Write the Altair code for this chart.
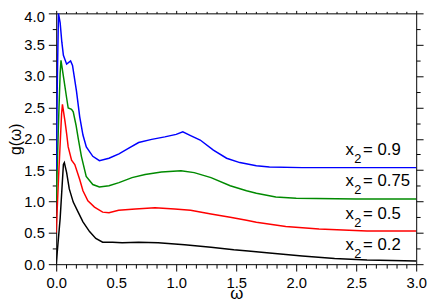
import altair as alt
import pandas as pd

# ---- data ----
w_02 = [0, 0.033, 0.06, 0.068, 0.087, 0.109, 0.142, 0.183, 0.223, 0.278, 0.33, 0.387, 0.47, 0.55, 0.687, 0.85, 1.07, 1.29, 1.48, 1.6, 1.777, 2.05, 2.32, 2.59, 3.0]
g_02 = [0, 0.73, 1.59, 1.62, 1.46, 1.20, 0.99, 0.83, 0.675, 0.52, 0.41, 0.35, 0.35, 0.34, 0.35, 0.34, 0.31, 0.27, 0.23, 0.21, 0.18, 0.13, 0.09, 0.065, 0.05]

w_05 = [0, 0.02, 0.045, 0.052, 0.074, 0.087, 0.1, 0.128, 0.155, 0.196, 0.223, 0.264, 0.319, 0.387, 0.44, 0.52, 0.66, 0.823, 0.987, 1.12, 1.29, 1.45, 1.586, 1.668, 1.913, 2.19, 2.59, 3.0]
g_05 = [0.5, 1.4, 2.4, 2.55, 2.27, 2.08, 1.87, 1.66, 1.59, 1.35, 1.17, 1.01, 0.91, 0.83, 0.82, 0.86, 0.88, 0.90, 0.88, 0.86, 0.80, 0.75, 0.70, 0.67, 0.60, 0.56, 0.53, 0.53]

w_075 = [0, 0.02, 0.033, 0.04, 0.063, 0.087, 0.1, 0.128, 0.142, 0.165, 0.185, 0.21, 0.25, 0.305, 0.36, 0.44, 0.523, 0.632, 0.741, 0.877, 1.04, 1.15, 1.29, 1.45, 1.586, 1.668, 1.83, 2.0, 2.5, 3.0]
g_075 = [1.0, 2.3, 3.05, 3.25, 2.96, 2.65, 2.49, 2.47, 2.43, 2.22, 1.99, 1.72, 1.40, 1.27, 1.23, 1.25, 1.30, 1.38, 1.43, 1.47, 1.49, 1.46, 1.38, 1.25, 1.17, 1.13, 1.07, 1.05, 1.04, 1.04]

w_09 = [0, 0.01, 0.019, 0.033, 0.047, 0.06, 0.087, 0.12, 0.136, 0.169, 0.196, 0.223, 0.251, 0.305, 0.36, 0.44, 0.523, 0.605, 0.687, 0.796, 0.905, 1.0, 1.055, 1.12, 1.2, 1.31, 1.42, 1.53, 1.668, 1.777, 2.05, 3.0]
g_09 = [1.5, 3.0, 4.0, 3.85, 3.54, 3.33, 3.19, 3.24, 3.17, 2.76, 2.35, 2.06, 1.87, 1.72, 1.65, 1.69, 1.76, 1.85, 1.94, 1.99, 2.03, 2.07, 2.11, 2.05, 1.98, 1.82, 1.69, 1.62, 1.57, 1.55, 1.54, 1.54]

series_names = ["x2 = 0.2", "x2 = 0.5", "x2 = 0.75", "x2 = 0.9"]
series_colors = ["#000000", "#ff0000", "#008a00", "#0000ff"]

label_values = ["= 0.2", "= 0.5", "= 0.75", "= 0.9"]
label_x = [2.41, 2.41, 2.41, 2.41]
label_y = [0.23, 0.725, 1.245, 1.74]

x_tick_values = [i / 12 for i in range(37)]
y_tick_values = [i / 4 for i in range(17)]

# ---- tables ----
rows = []
for name, ws, gs in zip(series_names, [w_02, w_05, w_075, w_09], [g_02, g_05, g_075, g_09]):
    for w, g in zip(ws, gs):
        rows.append({"series": name, "w": w, "g": g})
df = pd.DataFrame(rows)

lab = pd.DataFrame({"lx": label_x, "ly": label_y, "val": label_values})

FONT = "Liberation Sans"
minor = "abs(datum.value*2 - round(datum.value*2)) > 0.001"
label_expr = minor + " ? '' : format(datum.value, '.1f')"

xscale = alt.Scale(domain=[0, 3], nice=False, zero=False)
yscale = alt.Scale(domain=[0, 4], nice=False, zero=False)

common = dict(domainColor="black", tickColor="black", domainWidth=1, tickWidth=1,
              grid=False, labelFont=FONT, labelFontSize=15, labelColor="black",
              titleFont=FONT, titleFontWeight="normal", titleColor="black",
              labelOverlap=False, labelFlush=False)

x_bottom = alt.Axis(orient="bottom", values=x_tick_values, labelExpr=label_expr,
                    tickSize={"condition": {"test": minor, "value": 4}, "value": 7},
                    labelPadding=5, titlePadding=-5, titleFontSize=17, **common)
y_left = alt.Axis(orient="left", values=y_tick_values, labelExpr=label_expr,
                  tickSize={"condition": {"test": minor, "value": 4}, "value": 8},
                  labelOffset={"condition": {"test": "datum.value > 3.9", "value": 3}, "value": 0},
                  labelPadding=4, titlePadding=0, titleFontSize=16, **common)
x_top = alt.Axis(orient="top", values=x_tick_values, labels=False, title=None,
                 tickSize={"condition": {"test": minor, "value": 2}, "value": 3},
                 **common)
y_right = alt.Axis(orient="right", values=y_tick_values, labels=False, title=None,
                   tickSize={"condition": {"test": minor, "value": 4}, "value": 7},
                   **common)

lines = alt.Chart(df).mark_line(strokeWidth=1.5, clip=True).encode(
    x=alt.X("w:Q", scale=xscale, axis=x_bottom, title="ω"),
    y=alt.Y("g:Q", scale=yscale, axis=y_left, title="g(ω)"),
    color=alt.Color("series:N", scale=alt.Scale(domain=series_names, range=series_colors), legend=None),
)

base = alt.Chart(lab)
txt_x = base.mark_text(align="left", baseline="alphabetic", font=FONT, fontSize=17, color="black").encode(
    x=alt.X("lx:Q", scale=xscale, axis=x_top),
    y=alt.Y("ly:Q", scale=yscale, axis=y_right),
    text=alt.value("x"),
)
txt_sub = base.mark_text(align="left", baseline="alphabetic", font=FONT, fontSize=13, dx=9, dy=8, color="black").encode(
    x=alt.X("lx:Q", scale=xscale, axis=None),
    y=alt.Y("ly:Q", scale=yscale, axis=None),
    text=alt.value("2"),
)
txt_val = base.mark_text(align="left", baseline="alphabetic", font=FONT, fontSize=17, dx=18, color="black").encode(
    x=alt.X("lx:Q", scale=xscale, axis=None),
    y=alt.Y("ly:Q", scale=yscale, axis=None),
    text="val:N",
)

chart = alt.layer(lines, txt_x, txt_sub, txt_val).resolve_axis(
    x="independent", y="independent"
).properties(
    width=366, height=255,
    autosize=alt.AutoSizeParams(type="none"),
    padding={"left": 49, "top": 3, "right": 12, "bottom": 36},
    background="white",
).configure_view(stroke=None)

chart.save("out.html", embed_options={"renderer": "svg", "actions": False})
